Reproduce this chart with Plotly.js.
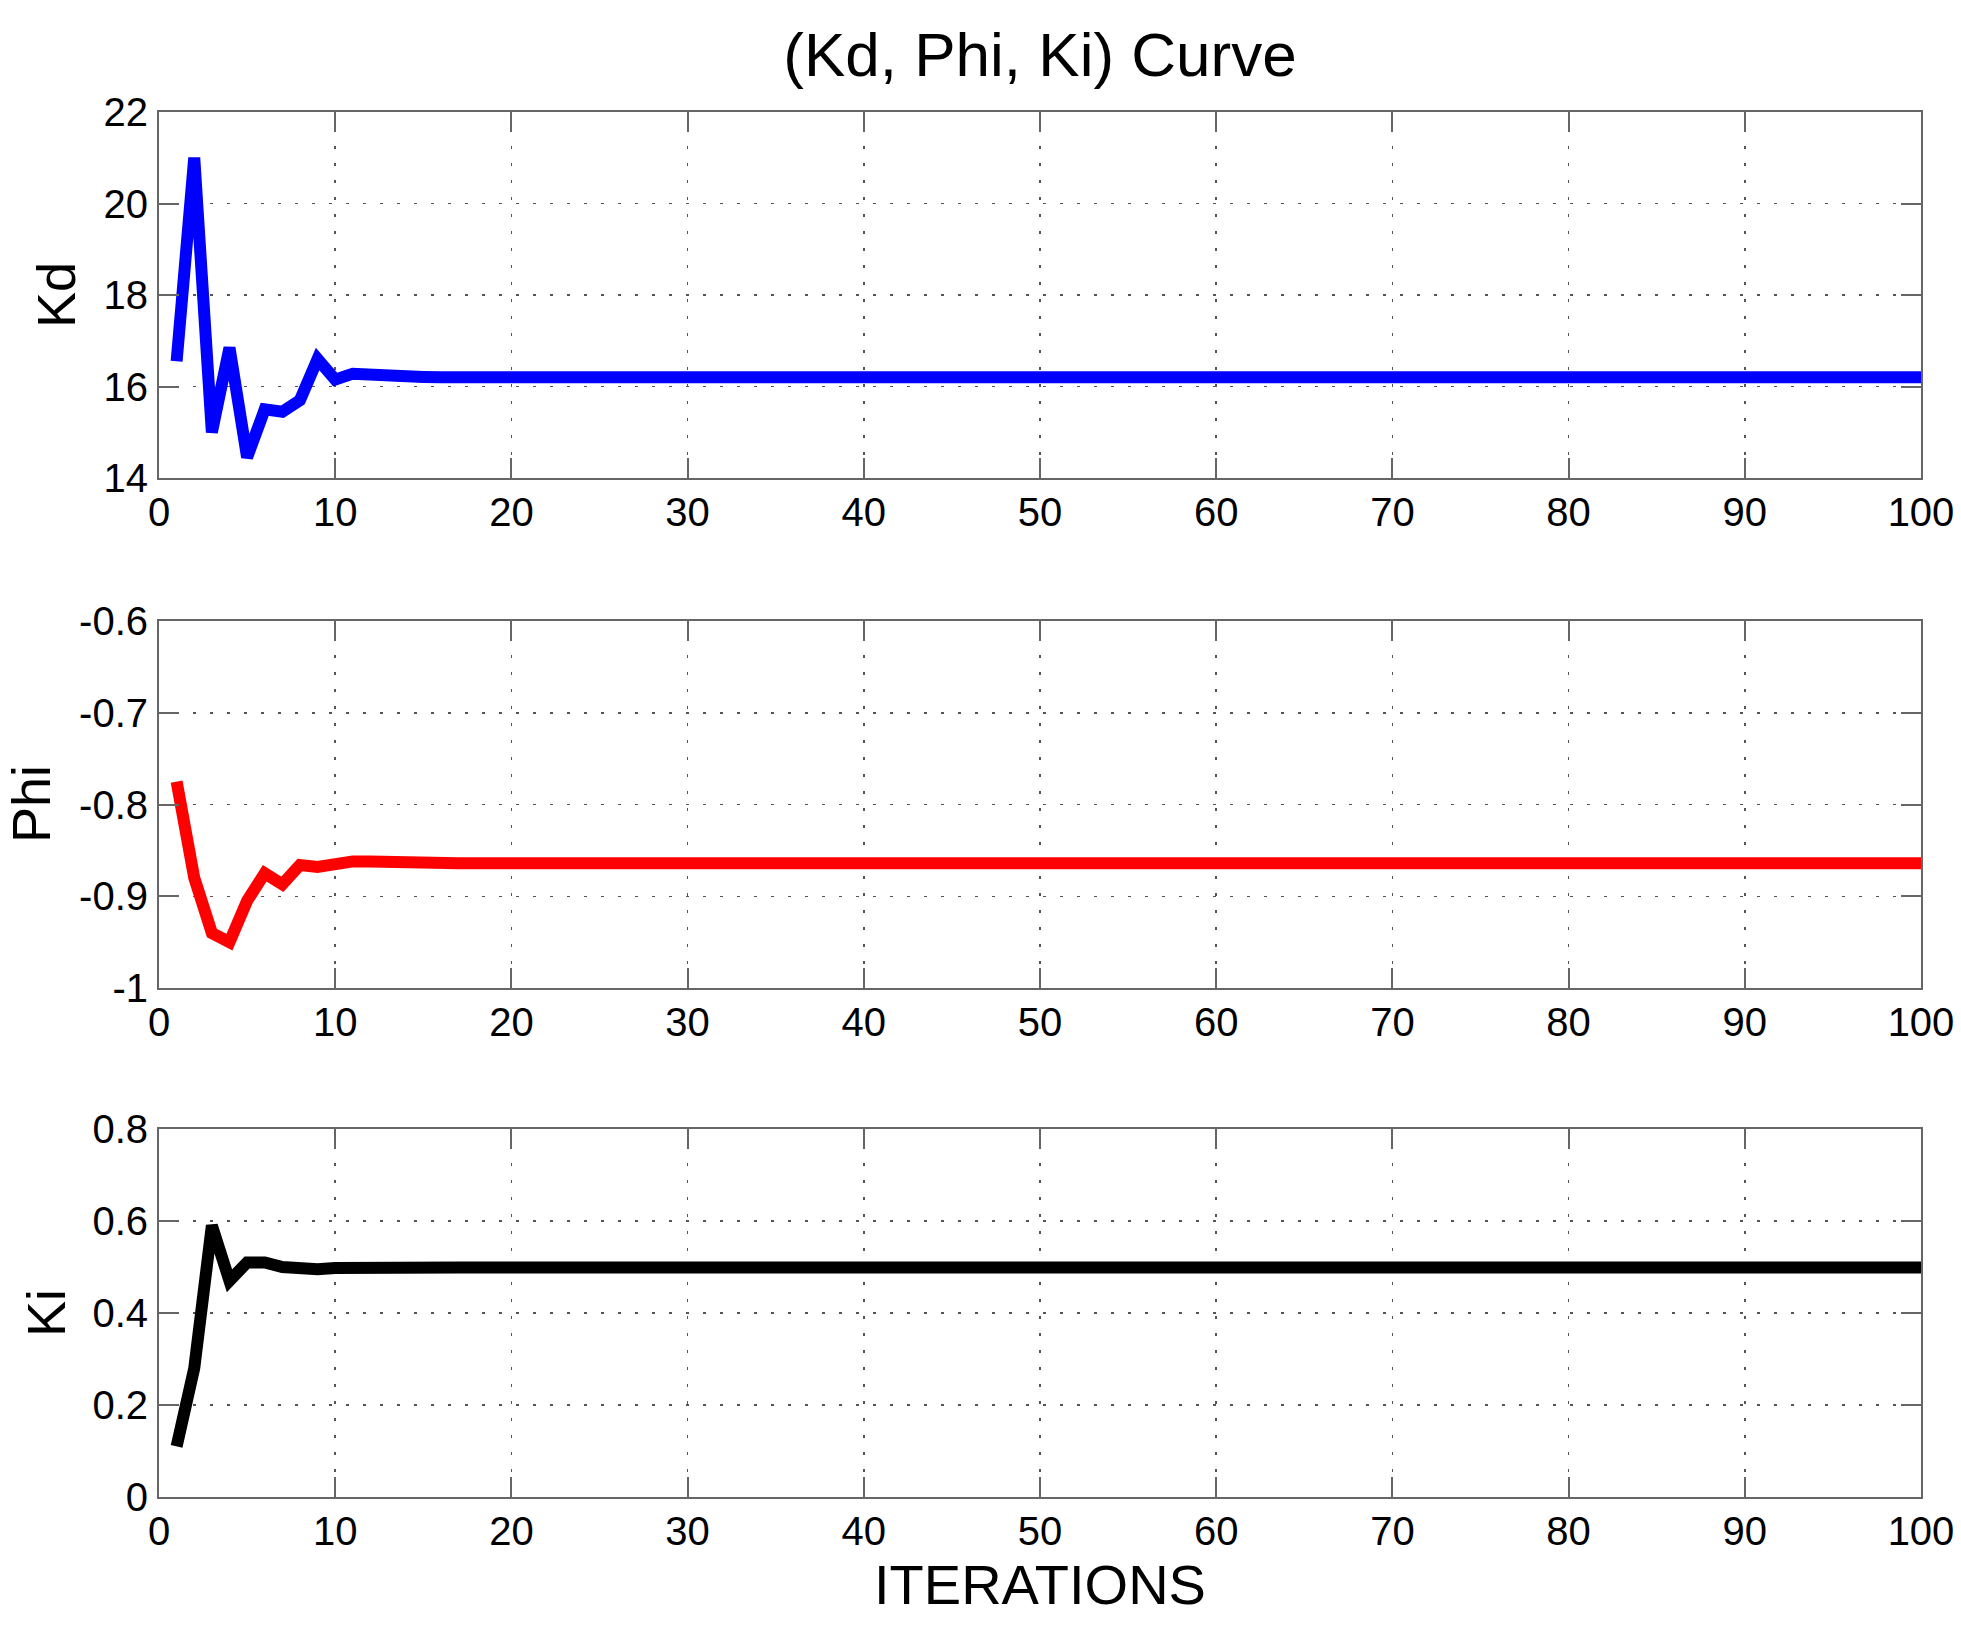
<!DOCTYPE html>
<html>
<head>
<meta charset="utf-8">
<script src="https://cdn.plot.ly/plotly-3.0.1.min.js"></script>
<style>
  html, body { margin: 0; padding: 0; background: #fff; }
  #chart { width: 1961px; height: 1641px; }
</style>
</head>
<body>
<div id="chart"></div>
<script>
(() => {
    "use strict";

    // values, one per iteration (1..100)
    const iterations = [
        1, 2, 3, 4, 5, 6, 7, 8, 9, 10, 11, 12, 13, 14, 15, 16, 17, 18, 19, 20,
        21, 22, 23, 24, 25, 26, 27, 28, 29, 30, 31, 32, 33, 34, 35, 36, 37, 38, 39, 40,
        41, 42, 43, 44, 45, 46, 47, 48, 49, 50, 51, 52, 53, 54, 55, 56, 57, 58, 59, 60,
        61, 62, 63, 64, 65, 66, 67, 68, 69, 70, 71, 72, 73, 74, 75, 76, 77, 78, 79, 80,
        81, 82, 83, 84, 85, 86, 87, 88, 89, 90, 91, 92, 93, 94, 95, 96, 97, 98, 99, 100,
    ];
    const kdValues = [
        16.55, 21.0, 15.0, 16.85, 14.45, 15.5, 15.45, 15.7, 16.6, 16.15,
        16.28, 16.25, 16.22, 16.21, 16.21, 16.2, 16.2, 16.2, 16.2, 16.2,
        16.2, 16.2, 16.2, 16.2, 16.2, 16.2, 16.2, 16.2, 16.2, 16.2,
        16.2, 16.2, 16.2, 16.2, 16.2, 16.2, 16.2, 16.2, 16.2, 16.2,
        16.2, 16.2, 16.2, 16.2, 16.2, 16.2, 16.2, 16.2, 16.2, 16.2,
        16.2, 16.2, 16.2, 16.2, 16.2, 16.2, 16.2, 16.2, 16.2, 16.2,
        16.2, 16.2, 16.2, 16.2, 16.2, 16.2, 16.2, 16.2, 16.2, 16.2,
        16.2, 16.2, 16.2, 16.2, 16.2, 16.2, 16.2, 16.2, 16.2, 16.2,
        16.2, 16.2, 16.2, 16.2, 16.2, 16.2, 16.2, 16.2, 16.2, 16.2,
        16.2, 16.2, 16.2, 16.2, 16.2, 16.2, 16.2, 16.2, 16.2, 16.2,
    ];
    const phiValues = [
        -0.775, -0.88, -0.94, -0.95, -0.905, -0.875, -0.887, -0.866, -0.868, -0.864,
        -0.862, -0.862, -0.863, -0.863, -0.864, -0.864, -0.864, -0.864, -0.864, -0.864,
        -0.864, -0.864, -0.864, -0.864, -0.864, -0.864, -0.864, -0.864, -0.864, -0.864,
        -0.864, -0.864, -0.864, -0.864, -0.864, -0.864, -0.864, -0.864, -0.864, -0.864,
        -0.864, -0.864, -0.864, -0.864, -0.864, -0.864, -0.864, -0.864, -0.864, -0.864,
        -0.864, -0.864, -0.864, -0.864, -0.864, -0.864, -0.864, -0.864, -0.864, -0.864,
        -0.864, -0.864, -0.864, -0.864, -0.864, -0.864, -0.864, -0.864, -0.864, -0.864,
        -0.864, -0.864, -0.864, -0.864, -0.864, -0.864, -0.864, -0.864, -0.864, -0.864,
        -0.864, -0.864, -0.864, -0.864, -0.864, -0.864, -0.864, -0.864, -0.864, -0.864,
        -0.864, -0.864, -0.864, -0.864, -0.864, -0.864, -0.864, -0.864, -0.864, -0.864,
    ];
    const kiValues = [
        0.11, 0.28, 0.59, 0.47, 0.51, 0.51, 0.5, 0.495, 0.495, 0.498,
        0.499, 0.499, 0.499, 0.499, 0.499, 0.499, 0.499, 0.499, 0.499, 0.499,
        0.499, 0.499, 0.499, 0.499, 0.499, 0.499, 0.499, 0.499, 0.499, 0.499,
        0.499, 0.499, 0.499, 0.499, 0.499, 0.499, 0.499, 0.499, 0.499, 0.499,
        0.499, 0.499, 0.499, 0.499, 0.499, 0.499, 0.499, 0.499, 0.499, 0.499,
        0.499, 0.499, 0.499, 0.499, 0.499, 0.499, 0.499, 0.499, 0.499, 0.499,
        0.499, 0.499, 0.499, 0.499, 0.499, 0.499, 0.499, 0.499, 0.499, 0.499,
        0.499, 0.499, 0.499, 0.499, 0.499, 0.499, 0.499, 0.499, 0.499, 0.499,
        0.499, 0.499, 0.499, 0.499, 0.499, 0.499, 0.499, 0.499, 0.499, 0.499,
        0.499, 0.499, 0.499, 0.499, 0.499, 0.499, 0.499, 0.499, 0.499, 0.499,
    ];

    const xTicks = [0, 10, 20, 30, 40, 50, 60, 70, 80, 90, 100];
    const kdTicks = [14, 16, 18, 20, 22];
    const phiTicks = [-1, -0.9, -0.8, -0.7, -0.6];
    const phiTickText = ["-1", "-0.9", "-0.8", "-0.7", "-0.6"];
    const kiTicks = [0, 0.2, 0.4, 0.6, 0.8];

    const W = 1961, H = 1641;
    const font = "Liberation Sans, Arial, Helvetica, sans-serif";
    const frame = "#666666";

    const xAxis = (anchor, withTitle) => ({
        anchor,
        domain: [159 / W, 1921 / W],
        range: [0, 100],
        tickvals: xTicks,
        ticks: "inside",
        ticklen: 20,
        tickwidth: 2,
        tickcolor: frame,
        showline: true,
        linecolor: frame,
        linewidth: 2,
        mirror: "ticks",
        showgrid: true,
        gridcolor: "#555555",
        gridwidth: 1.5,
        griddash: "3px,14px",
        zeroline: false,
        ticklabelstandoff: -2,
        tickfont: { family: font, size: 40, color: "#000" },
        title: withTitle
            ? { text: "ITERATIONS", standoff: 3, font: { family: font, size: 56, color: "#000" } }
            : { text: "" },
    });

    const yAxis = (anchor, top, bottom, range, tickvals, ticktext) => ({
        anchor,
        domain: [1 - bottom / H, 1 - top / H],
        range,
        tickvals,
        ticktext,
        ticks: "inside",
        ticklen: 20,
        tickwidth: 2,
        tickcolor: frame,
        showline: true,
        linecolor: frame,
        linewidth: 2,
        mirror: "ticks",
        showgrid: true,
        gridcolor: "#555555",
        gridwidth: 1.5,
        griddash: "3px,14px",
        zeroline: false,
        ticklabelstandoff: 1,
        tickfont: { family: font, size: 40, color: "#000" },
    });

    // y labels sit at fixed spots, like the original's
    const yLabel = (text, xPx, yPx) => ({
        text,
        xref: "paper",
        yref: "paper",
        x: xPx / W,
        y: 1 - yPx / H,
        xanchor: "center",
        yanchor: "middle",
        textangle: -90,
        showarrow: false,
        font: { family: font, size: 54, color: "#000" },
    });

    const traces = [
        { x: iterations, y: kdValues, xaxis: "x", yaxis: "y", type: "scatter", mode: "lines",
          line: { color: "#0000ff", width: 12 } },
        { x: iterations, y: phiValues, xaxis: "x2", yaxis: "y2", type: "scatter", mode: "lines",
          line: { color: "#ff0000", width: 12 } },
        { x: iterations, y: kiValues, xaxis: "x3", yaxis: "y3", type: "scatter", mode: "lines",
          line: { color: "#000000", width: 12 } },
    ];

    const layout = {
        width: W,
        height: H,
        margin: { l: 0, r: 0, t: 0, b: 0 },
        paper_bgcolor: "#ffffff",
        plot_bgcolor: "#ffffff",
        showlegend: false,
        font: { family: font, color: "#000" },
        title: {
            text: "(Kd, Phi, Ki) Curve",
            x: 1040 / W,
            xref: "paper",
            xanchor: "center",
            y: 1 - 54 / H,
            yanchor: "middle",
            font: { family: font, size: 62, color: "#000" },
        },
        xaxis: xAxis("y", false),
        xaxis2: xAxis("y2", false),
        xaxis3: xAxis("y3", true),
        yaxis: yAxis("x", 112, 478, [14, 22], kdTicks, null),
        yaxis2: yAxis("x2", 621, 988, [-1, -0.6], phiTicks, phiTickText),
        yaxis3: yAxis("x3", 1129, 1497, [0, 0.8], kiTicks, null),
        annotations: [
            yLabel("Kd", 56, 295),
            yLabel("Phi", 31, 804),
            yLabel("Ki", 46, 1313),
        ],
    };

    Plotly.newPlot("chart", traces, layout, { displayModeBar: false, staticPlot: true });
})();
</script>
</body>
</html>
